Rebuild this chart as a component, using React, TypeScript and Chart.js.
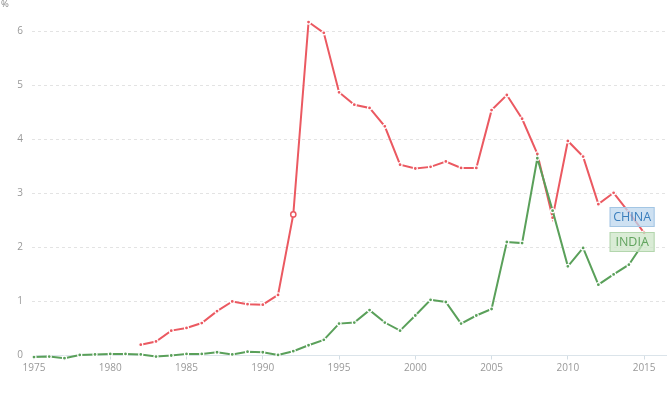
import { useEffect, useRef } from "react";
import { Chart, registerables } from "chart.js";

Chart.register(...registerables);

const years = [
  1975, 1976, 1977, 1978, 1979, 1980, 1981, 1982, 1983, 1984,
  1985, 1986, 1987, 1988, 1989, 1990, 1991, 1992, 1993, 1994,
  1995, 1996, 1997, 1998, 1999, 2000, 2001, 2002, 2003, 2004,
  2005, 2006, 2007, 2008, 2009, 2010, 2011, 2012, 2013, 2014, 2015,
];

const china: (number | null)[] = [
  null, null, null, null, null, null, null, 0.2, 0.26, 0.46,
  0.51, 0.6, 0.82, 1.0, 0.95, 0.94, 1.12, 2.61, 6.17, 5.97,
  4.87, 4.64, 4.58, 4.24, 3.53, 3.46, 3.49, 3.59, 3.47, 3.47,
  4.54, 4.82, 4.38, 3.73, 2.55, 3.97, 3.68, 2.8, 3.01, 2.65, 2.27,
];

const india: number[] = [
  -0.03, -0.02, -0.05, 0.01, 0.02, 0.03, 0.03, 0.02, -0.02, 0.0,
  0.03, 0.03, 0.06, 0.02, 0.07, 0.06, 0.01, 0.08, 0.19, 0.29,
  0.59, 0.61, 0.84, 0.61, 0.46, 0.74, 1.03, 0.99, 0.59, 0.74,
  0.86, 2.1, 2.08, 3.65, 2.68, 1.65, 1.99, 1.31, 1.5, 1.68, 2.1,
];

const xTicks = [1975, 1980, 1985, 1990, 1995, 2000, 2005, 2010, 2015];
const yTicks = [0, 1, 2, 3, 4, 5, 6];
const seriesNames = ["CHINA", "INDIA"];
const unitLabel = "%";
const highlightYear = 1992;

const RED = "#eb5961";
const GREEN = "#5aa05a";
const FONT = "'Open Sans', sans-serif";

export default function App() {
  const ref = useRef<HTMLCanvasElement | null>(null);

  useEffect(() => {
    document.body.style.margin = "0";
    const canvas = ref.current;
    if (!canvas) return;
    const hiIdx = years.indexOf(highlightYear);

    const labelPlugin = {
      id: "endLabels",
      afterDatasetsDraw(chart: any) {
        const ctx = chart.ctx;
        const xs = chart.scales.x;
        const ys = chart.scales.y;
        const lastYear = years[years.length - 1];
        const right = xs.getPixelForValue(lastYear) + 10.5;
        const w = 45;
        const h = 20;
        const indiaY = ys.getPixelForValue(india[india.length - 1]);
        const chinaY = Math.min(
          ys.getPixelForValue(china[china.length - 1] as number),
          indiaY - 25
        );
        const boxes = [
          { text: seriesNames[0], cy: chinaY, fill: "rgba(190,215,238,0.75)", stroke: "#a3c6e4", color: "#3b7fbd" },
          { text: seriesNames[1], cy: indiaY, fill: "rgba(205,230,200,0.75)", stroke: "#b3d6ad", color: "#62a45f" },
        ];
        ctx.save();
        for (const b of boxes) {
          const x = right - w;
          const y = b.cy - h / 2;
          ctx.fillStyle = b.fill;
          ctx.fillRect(x, y, w, h);
          ctx.strokeStyle = b.stroke;
          ctx.lineWidth = 1;
          ctx.strokeRect(x + 0.5, y + 0.5, w - 1, h - 1);
          ctx.fillStyle = b.color;
          ctx.font = `12.5px ${FONT}`;
          ctx.textAlign = "center";
          ctx.textBaseline = "middle";
          ctx.fillText(b.text, x + w / 2, b.cy + 0.5);
        }
        ctx.restore();
      },
      afterDraw(chart: any) {
        const ctx = chart.ctx;
        ctx.save();
        ctx.fillStyle = "#888";
        ctx.font = `9.5px ${FONT}`;
        ctx.textAlign = "left";
        ctx.textBaseline = "top";
        ctx.fillText(unitLabel, 1, 0);
        ctx.restore();
      },
    };

    const chart = new Chart(canvas, {
      type: "line",
      data: {
        datasets: [
          {
            label: seriesNames[1],
            data: years.map((y, i) => ({ x: y, y: india[i] })),
            borderColor: GREEN,
            backgroundColor: GREEN,
            borderWidth: 2,
            pointRadius: 2,
            pointBorderWidth: 1.2,
            pointBorderColor: "#fff",
            pointBackgroundColor: GREEN,
            tension: 0,
            clip: false as any,
          },
          {
            label: seriesNames[0],
            data: years.map((y, i) => ({ x: y, y: china[i] as any })),
            borderColor: RED,
            backgroundColor: RED,
            borderWidth: 2,
            pointRadius: (c: any) => (c.dataIndex === hiIdx ? 2.6 : 2),
            pointBorderWidth: (c: any) => (c.dataIndex === hiIdx ? 1.5 : 1.2),
            pointBorderColor: (c: any) => (c.dataIndex === hiIdx ? RED : "#fff"),
            pointBackgroundColor: (c: any) => (c.dataIndex === hiIdx ? "#fff" : RED),
            tension: 0,
            spanGaps: false,
            clip: false as any,
          },
        ],
      },
      options: {
        animation: false,
        responsive: true,
        maintainAspectRatio: false,
        layout: { autoPadding: false, padding: { top: 13, right: 0, left: 0, bottom: 0 } },
        plugins: {
          legend: { display: false },
          tooltip: { enabled: false },
        },
        scales: {
          x: {
            type: "linear",
            min: 1974.87,
            max: 2016.5,
            afterBuildTicks: (s: any) => {
              s.ticks = xTicks.map((v) => ({ value: v }));
            },
            afterFit: (s: any) => {
              s.height = 44.5;
              s.paddingLeft = 0;
              s.paddingRight = 0;
            },
            ticks: {
              color: "#999",
              font: { family: FONT, size: 10 },
              padding: 3,
              maxRotation: 0,
              callback: (v: any) => String(v),
            },
            grid: {
              display: true,
              drawOnChartArea: false,
              drawTicks: true,
              tickLength: 4,
              color: "#d3dde4",
            },
            border: { display: true, color: "#dbe4ea", width: 1 },
          },
          y: {
            type: "linear",
            min: 0,
            max: 6.3,
            afterBuildTicks: (s: any) => {
              s.ticks = yTicks.map((v) => ({ value: v }));
            },
            afterFit: (s: any) => {
              s.width = 32;
            },
            ticks: {
              color: "#999",
              font: { family: FONT, size: 10 },
              padding: 9,
              callback: (v: any) => String(v),
            },
            grid: {
              drawTicks: false,
              color: (c: any) => (c.tick && c.tick.value === 0 ? "rgba(0,0,0,0)" : "#e3e3e3"),
              lineWidth: 1,
            },
            border: { display: false, dash: [3, 3] },
          },
        },
      },
      plugins: [labelPlugin],
    });

    return () => chart.destroy();
  }, []);

  return (
    <div style={{ position: "absolute", left: 0, top: 0, width: 667, height: 400 }}>
      <canvas ref={ref} />
    </div>
  );
}
